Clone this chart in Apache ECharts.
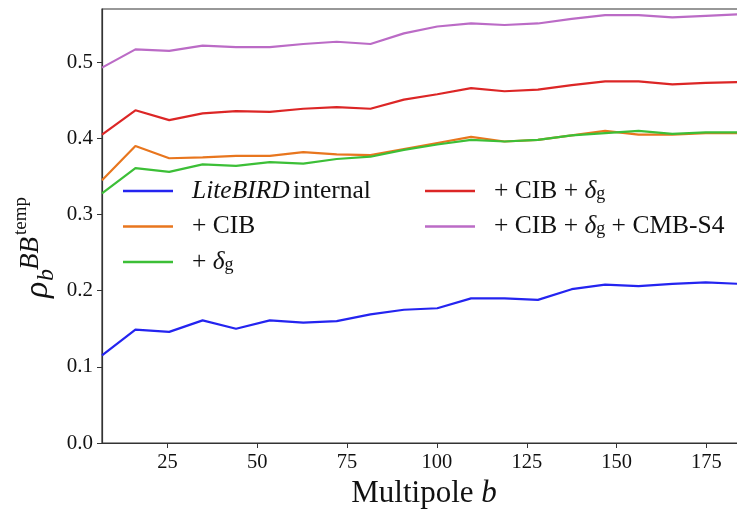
<!DOCTYPE html>
<html>
<head>
<meta charset="UTF-8">
<title></title>
<script src="https://cdn.jsdelivr.net/npm/echarts@6/dist/echarts.min.js"></script>
</head>
<body style="margin: 0; background: #fff">
<div id="container" style="width: 737px; height: 513px"></div>
<script type="text/javascript">
// multipole bin centres
var bins = [6.8, 16.1, 25.5, 34.8, 44.1, 53.5, 62.8, 72.1, 81.5, 90.8,
            100.1, 109.5, 118.8, 128.1, 137.5, 146.8, 156.1, 165.5, 174.8, 184.1];
var xTicks = [25, 50, 75, 100, 125, 150, 175];
var yTicks = [0, 0.1, 0.2, 0.3, 0.4, 0.5];

var liteInternal = [0.115, 0.149, 0.146, 0.161, 0.150, 0.161, 0.158, 0.160, 0.169, 0.175,
                    0.177, 0.190, 0.190, 0.188, 0.202, 0.208, 0.206, 0.209, 0.211, 0.209];
var plusCIB      = [0.345, 0.390, 0.374, 0.375, 0.377, 0.377, 0.382, 0.379, 0.378, 0.386,
                    0.394, 0.402, 0.396, 0.398, 0.404, 0.410, 0.405, 0.405, 0.407, 0.407];
var plusDelta    = [0.328, 0.361, 0.356, 0.366, 0.364, 0.369, 0.367, 0.373, 0.376, 0.385,
                    0.392, 0.398, 0.396, 0.398, 0.404, 0.407, 0.410, 0.406, 0.408, 0.408];
var cibDelta     = [0.405, 0.437, 0.424, 0.433, 0.436, 0.435, 0.439, 0.441, 0.439, 0.451,
                    0.458, 0.466, 0.462, 0.464, 0.470, 0.475, 0.475, 0.471, 0.473, 0.474];
var cibDeltaS4   = [0.493, 0.517, 0.515, 0.522, 0.520, 0.520, 0.524, 0.527, 0.524, 0.538,
                    0.547, 0.551, 0.549, 0.551, 0.557, 0.562, 0.562, 0.559, 0.561, 0.563];

var names = ['LiteBIRD internal', '+ CIB', '+ dg', '+ CIB + dg', '+ CIB + dg + CMB-S4'];
var colors = ['#2424f0', '#e8761e', '#3cbf37', '#dc2626', '#bb6bc6'];
var values = [liteInternal, plusCIB, plusDelta, cibDelta, cibDeltaS4];

var serif = 'Liberation Serif';

var legendLabels = {
    'LiteBIRD internal': '{it|LiteBIRD} {rm|internal}',
    '+ CIB': '{rm|+ CIB}',
    '+ dg': '{rm|+ }{it|δ}{sub|g}',
    '+ CIB + dg': '{rm|+ CIB + }{it|δ}{sub|g}',
    '+ CIB + dg + CMB-S4': '{rm|+ CIB + }{it|δ}{sub|g}{rm| + CMB-S4}'
};
var legendRich = {
    rm: {fontFamily: serif, fontSize: 25.5, lineHeight: 24, color: '#111'},
    it: {fontFamily: serif, fontSize: 25.5, lineHeight: 24, fontStyle: 'italic', color: '#111'},
    sub: {fontFamily: serif, fontSize: 18, lineHeight: 12, verticalAlign: 'bottom', color: '#111'}
};

function pairs(ys) {
    return bins.map(function (b, i) { return [b, ys[i]]; });
}

function makeLegend(data, left) {
    return {
        data: data,
        orient: 'vertical',
        left: left,
        top: 178,
        icon: 'rect',
        itemWidth: 50,
        itemHeight: 2.5,
        itemGap: 9.5,
        padding: 0,
        textStyle: {padding: [0, 0, 0, 14], rich: legendRich},
        formatter: function (n) { return legendLabels[n]; }
    };
}

var dom = document.getElementById('container');
var myChart = echarts.init(dom, null, {renderer: 'canvas'});

var labelFont = function (style, size) {
    return style + ' ' + size + 'px "Liberation Serif"';
};

var option = {
    animation: false,
    backgroundColor: '#fff',
    grid: {
        left: 102, right: -9, top: 9, bottom: 70,
        outerBoundsMode: 'none',
        show: true, borderColor: '#333', borderWidth: 1.2
    },
    legend: [
        makeLegend(names.slice(0, 3), 123),
        makeLegend(names.slice(3), 425)
    ],
    xAxis: {
        type: 'value',
        min: 6.8,
        max: 186,
        name: '{rm|Multipole }{it|b}',
        nameLocation: 'middle',
        nameGap: 35,
        nameTextStyle: {
            rich: {
                rm: {fontFamily: serif, fontSize: 31, color: '#111'},
                it: {fontFamily: serif, fontSize: 31, fontStyle: 'italic', color: '#111'}
            }
        },
        axisLine: {onZero: false, lineStyle: {color: '#333', width: 1.2}},
        axisTick: {show: true, length: 5, customValues: xTicks, lineStyle: {color: '#333'}},
        axisLabel: {customValues: xTicks, fontFamily: serif, fontSize: 20.5, color: '#111', margin: 9},
        splitLine: {show: false}
    },
    yAxis: {
        type: 'value',
        min: 0,
        max: 0.57,
        axisLine: {show: true, lineStyle: {color: '#333', width: 1.2}},
        axisTick: {show: true, length: 5, customValues: yTicks, lineStyle: {color: '#333'}},
        axisLabel: {
            customValues: yTicks,
            fontFamily: serif, fontSize: 21, color: '#111', margin: 9,
            formatter: function (v) { return v.toFixed(1); }
        },
        splitLine: {show: false}
    },
    graphic: [{
        type: 'group',
        x: 0,
        y: 298,
        rotation: Math.PI / 2,
        children: [
            {type: 'text', x: 0, y: 38, style: {text: 'ρ', font: labelFont('italic', 34), fill: '#111', verticalAlign: 'middle'}},
            {type: 'text', x: 17, y: 47, style: {text: 'b', font: labelFont('italic', 24), fill: '#111', verticalAlign: 'middle'}},
            {type: 'text', x: 28, y: 31, style: {text: 'BB', font: labelFont('italic', 27), fill: '#111', verticalAlign: 'middle'}},
            {type: 'text', x: 63, y: 21, style: {text: 'temp', font: labelFont('', 19), fill: '#111', verticalAlign: 'middle'}}
        ]
    }],
    series: names.map(function (n, i) {
        return {
            name: n,
            type: 'line',
            data: pairs(values[i]),
            showSymbol: false,
            symbol: 'none',
            color: colors[i],
            lineStyle: {width: 2.2, color: colors[i]}
        };
    })
};

myChart.setOption(option);
</script>
</body>
</html>
